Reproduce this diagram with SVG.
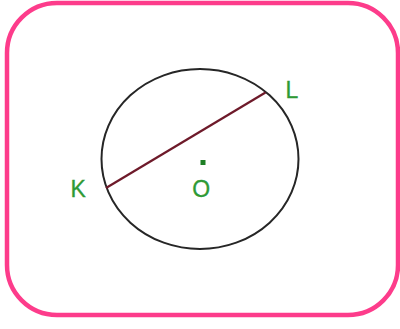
<svg xmlns="http://www.w3.org/2000/svg" width="400" height="329" viewBox="0 0 400 329">
<style>
.lbl{font-family:"Liberation Sans",Arial,sans-serif;font-size:23px;fill:#2e9a35;stroke:#2e9a35;stroke-width:0.3}
</style>
<rect width="400" height="329" fill="#fff"/>
<rect id="frame" x="7" y="3" width="391" height="312" rx="50" ry="50" fill="none" stroke="#fd3c8b" stroke-width="4.5"/>
<g id="circle"><ellipse cx="200" cy="159" rx="98.5" ry="90" fill="none" stroke="#262626" stroke-width="2"/></g>
<g id="connectors"><line x1="106" y1="188" x2="265.5" y2="92.5" stroke="#6e1a2a" stroke-width="2.2"/></g>
<g id="center"><rect x="200.5" y="160" width="5" height="5" fill="#1e7f25"/><text class="lbl" x="201.3" y="197" text-anchor="middle">O</text></g>
<g id="K"><text class="lbl" x="70.5" y="197">K</text></g>
<g id="L"><text class="lbl" x="285.5" y="97.5">L</text></g>
</svg>
